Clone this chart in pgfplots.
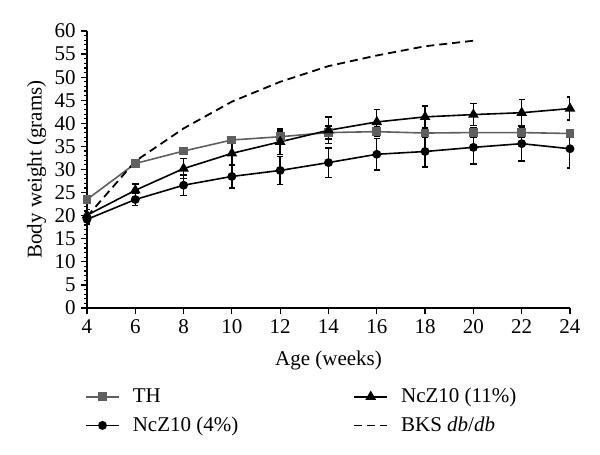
\documentclass[border=0pt]{standalone}
\usepackage{fontspec}
\setmainfont{Liberation Serif}
\usepackage{pgfplots}
\pgfplotsset{compat=1.18}
\definecolor{thgray}{RGB}{95,95,95}
\begin{document}
\fontsize{10.5}{12}\selectfont
\begin{tikzpicture}
\useasboundingbox (-43.5pt,-73.5pt) rectangle (256.5pt,154pt);
\begin{axis}[
  at={(0,0)}, anchor=south west,
  scale only axis, width=241.5pt, height=138.5pt,
  xmin=4, xmax=24, ymin=0, ymax=60,
  axis lines*=left,
  tick align=outside,
  xtick={4,6,...,24}, ytick={0,5,...,60},
  minor y tick num=4,
  major tick length=3pt, minor tick length=1.5pt,
  tick style={black, line width=0.6pt},
  axis line style={line width=0.8pt},
  /pgf/number format/assume math mode=true,
  ticklabel style={font=\fontsize{10.5}{12}\selectfont},
  xticklabel style={yshift=1pt},
  yticklabel style={xshift=1pt},
  label style={font=\fontsize{10.5}{12}\selectfont},
  xlabel={Age (weeks)},
  ylabel={Body weight (grams)},
  xlabel style={yshift=-1.5pt},
  ylabel style={yshift=-3pt},
  legend cell align=left,
  legend columns=2,
  transpose legend,
  legend style={draw=none, fill=none, at={(-0.017,-0.258)}, anchor=north west,
    font=\fontsize{10.5}{12}\selectfont, row sep=1.5pt,
    /tikz/every even column/.append style={column sep=55.5pt}},
  legend image code/.code={\draw[mark repeat=2,mark phase=2,#1] plot coordinates {(0cm,0cm) (0.29cm,0cm) (0.58cm,0cm)}; \path (0.58cm+4.5pt,0cm);},
  error bars/error bar style={black, line width=0.7pt},
  error bars/error mark options={rotate=90, mark size=1.6pt, line width=0.7pt, black},
]
\addplot[thgray, line width=0.8pt, mark=square*, mark size=1.8pt, mark options={fill=thgray, draw=thgray},
  error bars/.cd, y dir=both, y explicit]
  coordinates {
  (4,23.5) +- (0,0.8)
  (6,31.3) +- (0,0.8)
  (8,34.0) +- (0,0.8)
  (10,36.4) +- (0,0.7)
  (12,37.1) +- (0,1.2)
  (14,38.0) +- (0,1.4)
  (16,38.2) +- (0,1.0)
  (18,37.9) +- (0,1.0)
  (20,38.0) +- (0,1.0)
  (22,38.0) +- (0,1.0)
  (24,37.8) +- (0,0.9)
  };
\addlegendentry{TH}
\addplot[black, line width=0.8pt, mark=*, mark size=1.8pt,
  error bars/.cd, y dir=both, y explicit]
  coordinates {
  (4,19.2) +- (0,1.0)
  (6,23.5) +- (0,1.3)
  (8,26.6) +- (0,2.2)
  (10,28.5) +- (0,2.5)
  (12,29.8) +- (0,3.0)
  (14,31.5) +- (0,3.2)
  (16,33.3) +- (0,3.4)
  (18,33.9) +- (0,3.4)
  (20,34.8) +- (0,3.6)
  (22,35.6) +- (0,3.8)
  (24,34.5) +- (0,4.2)
  };
\addlegendentry{NcZ10 (4\%)}
\addplot[black, line width=0.8pt, mark=triangle*, mark size=2.3pt,
  error bars/.cd, y dir=both, y explicit]
  coordinates {
  (4,20.1) +- (0,1.2)
  (6,25.5) +- (0,1.4)
  (8,30.2) +- (0,2.2)
  (10,33.5) +- (0,2.5)
  (12,36.0) +- (0,2.8)
  (14,38.5) +- (0,2.9)
  (16,40.3) +- (0,2.7)
  (18,41.4) +- (0,2.4)
  (20,41.9) +- (0,2.4)
  (22,42.3) +- (0,2.9)
  (24,43.2) +- (0,2.5)
  };
\addlegendentry{NcZ10 (11\%)}
\addplot[black, line width=0.9pt, dash pattern=on 4pt off 2.5pt, mark=none]
  coordinates {
  (4,19.8) (6,31.8) (8,38.9) (10,44.7) (12,49.0) (14,52.4) (16,54.7) (18,56.7) (20,57.9)
  };
\addlegendentry{BKS \textit{db}/\textit{db}}
\end{axis}
\end{tikzpicture}
\end{document}
